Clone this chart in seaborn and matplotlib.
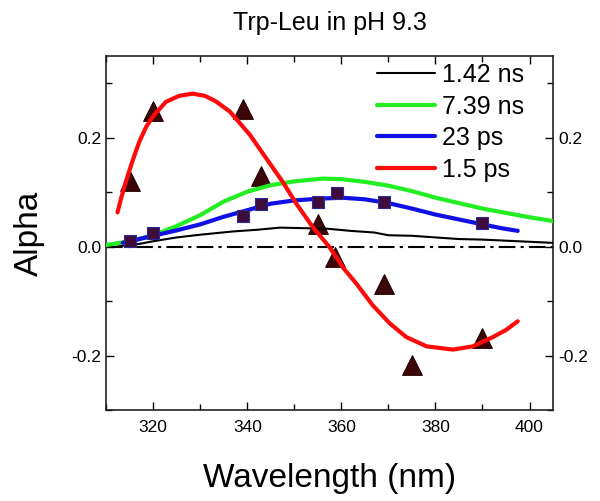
import matplotlib
matplotlib.use("Agg")
import matplotlib.pyplot as plt
from matplotlib.ticker import MultipleLocator, FormatStrFormatter
import seaborn as sns

# Fitted curves
wl_142ns = [312, 317, 320, 325, 330, 337, 342, 347, 352, 357, 362, 367, 370, 375, 380, 385, 390, 395, 400, 405]
alpha_142ns = [0.0, 0.005, 0.010, 0.017, 0.022, 0.028, 0.031, 0.035, 0.034, 0.033, 0.029, 0.026, 0.021,
               0.020, 0.017, 0.014, 0.013, 0.011, 0.009, 0.007]

wl_739ns = [310, 315, 320, 325, 330, 335, 340, 345, 350, 356, 360, 365, 370, 375, 380, 385, 390, 395, 400, 405]
alpha_739ns = [0.003, 0.010, 0.021, 0.038, 0.058, 0.083, 0.101, 0.113, 0.120, 0.125, 0.124, 0.119, 0.112,
               0.102, 0.090, 0.080, 0.070, 0.062, 0.054, 0.047]

wl_23ps = [313.5, 317, 320, 325, 330, 335, 340, 345, 350, 355, 360, 365, 370, 375, 380, 385, 390, 394, 397.5]
alpha_23ps = [0.007, 0.014, 0.020, 0.030, 0.041, 0.055, 0.067, 0.079, 0.085, 0.088, 0.090, 0.087, 0.080,
              0.070, 0.059, 0.050, 0.041, 0.034, 0.029]

wl_15ps = [312.4, 313.2, 314.2, 315.5, 317, 318.5, 320, 322.7, 325.5, 328.4, 331, 333.3, 336.3, 340.5, 343.4,
           347.6, 350.5, 354, 357.5, 360.5, 363.2, 366.7, 370.3, 373.8, 378.1, 383.7, 388, 392.2, 395, 397.5]
alpha_15ps = [0.063, 0.090, 0.120, 0.155, 0.192, 0.220, 0.240, 0.266, 0.277, 0.281, 0.277, 0.267, 0.248,
              0.206, 0.170, 0.118, 0.078, 0.035, -0.001, -0.040, -0.068, -0.108, -0.141, -0.166, -0.183,
              -0.189, -0.183, -0.166, -0.153, -0.137]

# Measured points
tri_wl = [315, 320, 339, 343, 355, 358.7, 369, 375, 390]
tri_alpha = [0.120, 0.250, 0.252, 0.130, 0.041, -0.019, -0.068, -0.218, -0.167]
sq_wl = [315, 320, 339, 343, 355, 359, 369, 390]
sq_alpha = [0.011, 0.026, 0.057, 0.079, 0.082, 0.099, 0.082, 0.043]

zero_wl = [310, 405]
zero_alpha = [0.0, 0.0]

sns.set_theme(style="ticks")
plt.rcParams['font.family'] = ['Liberation Sans', 'DejaVu Sans']
plt.rcParams['axes.unicode_minus'] = False
plt.rcParams['text.color'] = 'black'
plt.rcParams['axes.labelcolor'] = 'black'

fig = plt.figure(figsize=(6, 5.01), dpi=100)
ax = fig.add_axes([0.177, 0.1816, 0.7447, 0.7064])

sns.lineplot(x=zero_wl, y=zero_alpha, ax=ax, color="black", lw=1.5,
             linestyle=(0, (8, 2.5, 1.5, 2.5)), zorder=1)
sns.scatterplot(x=tri_wl, y=tri_alpha, ax=ax, marker="^", s=200, color="#3b0707",
                edgecolor="#220000", linewidth=0.8, zorder=2, legend=False)
sns.lineplot(x=wl_142ns, y=alpha_142ns, ax=ax, color="black", lw=1.5, label="1.42 ns", zorder=3)
sns.lineplot(x=wl_739ns, y=alpha_739ns, ax=ax, color="#22ee22", lw=3, label="7.39 ns", zorder=3)
sns.lineplot(x=wl_23ps, y=alpha_23ps, ax=ax, color="#1010e6", lw=3, label="23 ps", zorder=3)
sns.lineplot(x=wl_15ps, y=alpha_15ps, ax=ax, color="#ff0a0a", lw=3, label="1.5 ps", zorder=4)
sns.scatterplot(x=sq_wl, y=sq_alpha, ax=ax, marker="s", s=85, color="#3f0c3c",
                edgecolor="#2a2a9a", linewidth=0.8, zorder=5, legend=False)

ax.set_xlim(310, 405)
ax.set_ylim(-0.3, 0.35)
ax.xaxis.set_major_locator(MultipleLocator(20))
ax.xaxis.set_minor_locator(MultipleLocator(10))
ax.yaxis.set_major_locator(MultipleLocator(0.2))
ax.yaxis.set_minor_locator(MultipleLocator(0.1))
ax.yaxis.set_major_formatter(FormatStrFormatter('%.1f'))
ax.tick_params(which="both", direction="in", top=True, right=True, labelright=True,
               labelsize=12.5, width=1, colors="black")
ax.tick_params(axis="x", which="major", pad=7)
ax.tick_params(which="major", length=6)
ax.tick_params(which="minor", length=4)
for sp in ax.spines.values():
    sp.set_visible(True)
    sp.set_linewidth(1.2)
    sp.set_color("#222222")

ax.set_xlabel("Wavelength (nm)", fontsize=24, labelpad=20)
ax.set_ylabel("Alpha", fontsize=24, labelpad=19)
ax.set_title("Trp-Leu in pH 9.3", fontsize=18, pad=19)

ax.legend(loc="upper right", bbox_to_anchor=(0.942, 0.987), frameon=False, fontsize=18,
          handlelength=2.3, labelspacing=0.3, handletextpad=0.3, borderaxespad=0.0, borderpad=0.1)

fig.savefig("out.png", dpi=100)
